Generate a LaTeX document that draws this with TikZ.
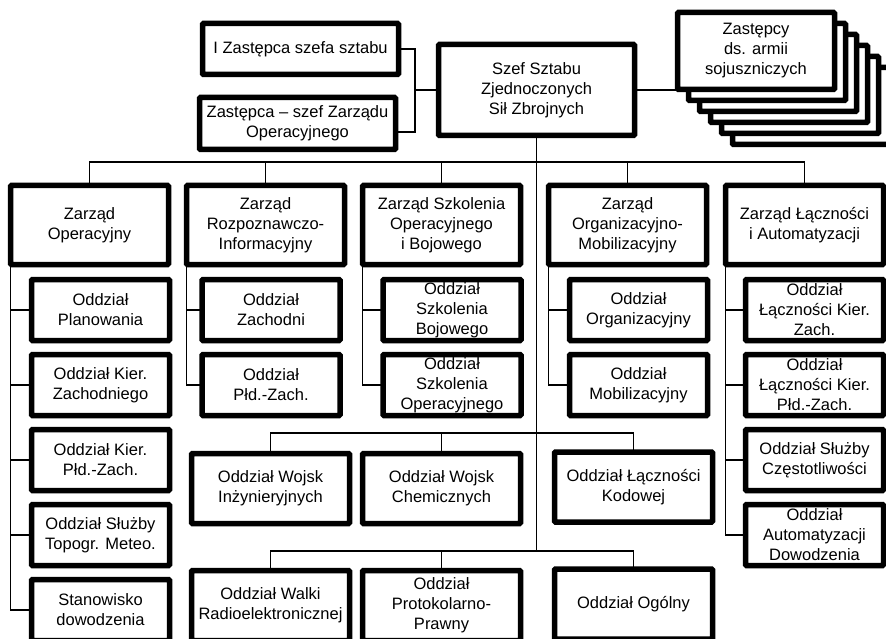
\documentclass[tikz,border=0pt]{standalone}
\usepackage{fontspec}
\setmainfont{Liberation Sans}
\tikzset{
  box/.style={draw, line width=5.5pt, fill=white, rounded corners=1pt, align=center,
    inner sep=0pt, outer sep=0pt, font=\fontsize{16.5}{20}\selectfont},
  top/.style={box, minimum width=158, minimum height=79},
  unit/.style={box, minimum width=138, minimum height=61},
  mid/.style={box, minimum width=158, minimum height=70},
  line/.style={line width=1.5pt}
}
\begin{document}
\begin{tikzpicture}[x=1pt, y=-1pt]
            \useasboundingbox (0,0) rectangle (886,639);
            \clip (0,0) rectangle (886,639);
            % head
            \node[box, minimum width=196, minimum height=91] (szef) at (536.5,90) {Szef Sztabu\\Zjednoczonych\\Sił Zbrojnych};
            \node[box, minimum width=196, minimum height=51] (zast1) at (300.5,49) {I Zastępca szefa sztabu};
            \node[box, minimum width=196, minimum height=52] (zast2) at (297.5,123.5) {Zastępca -- szef Zarządu\\Operacyjnego};
            \foreach \i in {5,...,1}
                \node[box, minimum width=157, minimum height=77] (zz\i) at (756+11*\i, 51+11*\i) {};
            \node[box, minimum width=157, minimum height=77] (zz) at (756,51) {Zastępcy\\ds. armii\\sojuszniczych};
            \draw[line] (zast1.east) -| ++(16.5,83) -- ([yshift=-8.5pt]zast2.east);
            \draw[line] (szef.west) -- ++(-23.5,0);
            \draw[line] (szef.east) -- (zz.west |- szef.east);
            % zarzady
            \node[top] (zo) at (89.5,225) {Zarząd\\Operacyjny};
            \node[top] (zr) at (265.5,225) {Zarząd\\Rozpoznawczo-\\Informacyjny};
            \node[top] (zs) at (441.5,225) {Zarząd Szkolenia\\Operacyjnego\\i Bojowego};
            \node[top] (zom) at (627.5,225) {Zarząd\\Organizacyjno-\\Mobilizacyjny};
            \node[top] (zl) at (804.5,225) {Zarząd Łączności\\i Automatyzacji};
            \draw[line] (szef.south) -- (szef.south |- 0,551);
            \draw[line] (zo.north) -- ++(0,-23.5) -| (zl.north);
            \foreach \n in {zr,zs,zom}
                \draw[line] (\n.north) -- ++(0,-23.5);
            % oddzialy
            \node[unit] (zo1) at (100.5,310) {Oddział\\Planowania};
            \node[unit] (zo2) at (100.5,385) {Oddział Kier.\\Zachodniego};
            \node[unit] (zo3) at (100.5,460) {Oddział Kier.\\Płd.-Zach.};
            \node[unit] (zo4) at (100.5,535) {Oddział Służby\\Topogr. Meteo.};
            \node[unit] (zo5) at (100.5,610) {Stanowisko\\dowodzenia};
            \node[unit] (zr1) at (271,310) {Oddział\\Zachodni};
            \node[unit] (zr2) at (271,385) {Oddział\\Płd.-Zach.};
            \node[unit] (zs1) at (452,310) {Oddział\\Szkolenia\\Bojowego};
            \node[unit] (zs2) at (452,385) {Oddział\\Szkolenia\\Operacyjnego};
            \node[unit] (zom1) at (638.5,310) {Oddział\\Organizacyjny};
            \node[unit] (zom2) at (638.5,385) {Oddział\\Mobilizacyjny};
            \node[unit] (zl1) at (814.5,310) {Oddział\\Łączności Kier.\\Zach.};
            \node[unit] (zl2) at (814.5,385) {Oddział\\Łączności Kier.\\Płd.-Zach.};
            \node[unit] (zl3) at (814.5,460) {Oddział Służby\\Częstotliwości};
            \node[unit] (zl4) at (814.5,535) {Oddział\\Automatyzacji\\Dowodzenia};
            \draw[line] (zo.south west) |- (zo5.west);
            \foreach \k in {1,...,4}
                \draw[line] (zo.south west |- zo\k.west) -- (zo\k.west);
            \draw[line] (zr.south west) |- (zr2.west) (zr.south west |- zr1.west) -- (zr1.west);
            \draw[line] (zs.south west) |- (zs2.west) (zs.south west |- zs1.west) -- (zs1.west);
            \draw[line] (zom.south west) |- (zom2.west) (zom.south west |- zom1.west) -- (zom1.west);
            \draw[line] (zl.south west) |- (zl4.west);
            \foreach \k in {1,...,3}
                \draw[line] (zl.south west |- zl\k.west) -- (zl\k.west);
            % oddzialy pod szefem
            \node[mid] (wi) at (270.5,488.5) {Oddział Wojsk\\Inżynieryjnych};
            \node[mid] (wc) at (441.5,488.5) {Oddział Wojsk\\Chemicznych};
            \node[mid] (lk) at (633.5,487) {Oddział Łączności\\Kodowej};
            \node[mid] (wr) at (270.5,605.5) {Oddział Walki\\Radioelektronicznej};
            \node[mid] (pp) at (441.5,605.5) {Oddział\\Protokolarno-\\Prawny};
            \node[mid] (og) at (633.5,604) {Oddział Ogólny};
            \draw[line] (wi.north) -- ++(0,-20.5) -| (lk.north);
            \draw[line] (wc.north) -- ++(0,-20.5);
            \draw[line] (wr.north) -- ++(0,-19.5) -| (og.north);
            \draw[line] (pp.north) -- ++(0,-19.5);
        \end{tikzpicture}
\end{document}
